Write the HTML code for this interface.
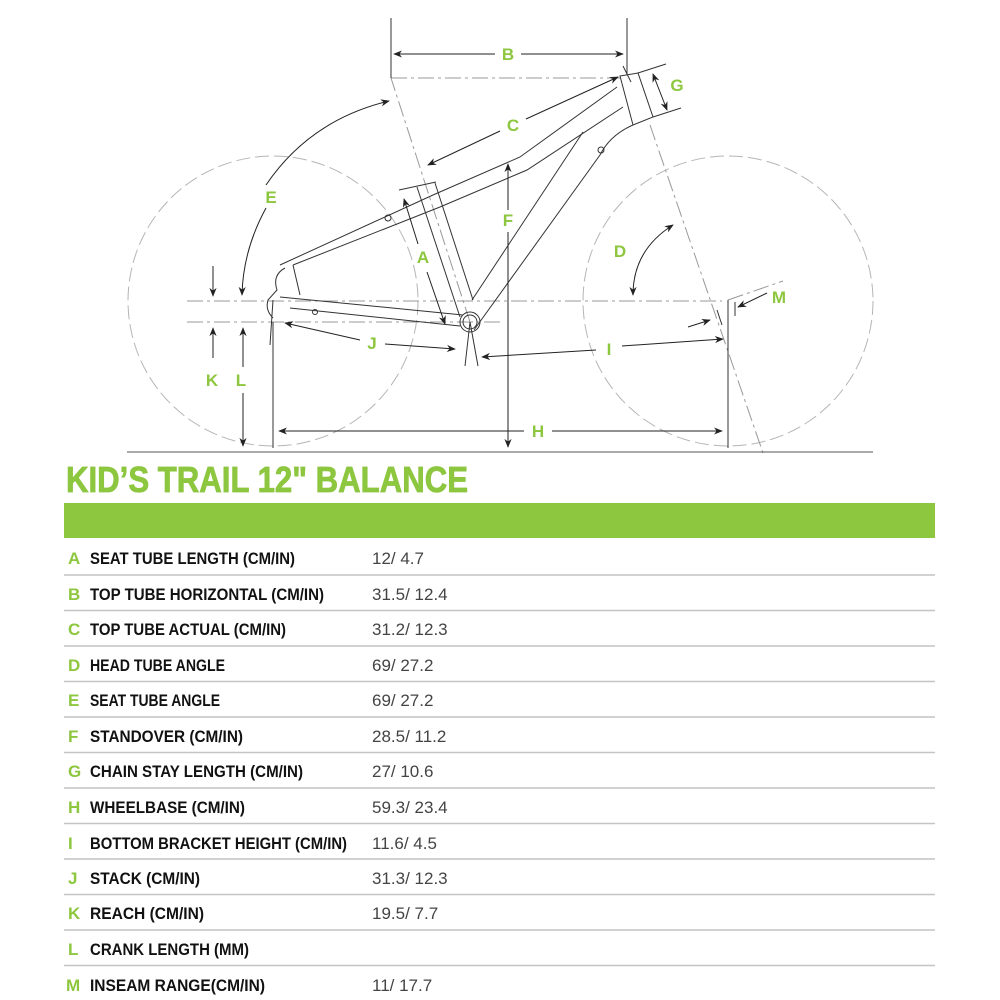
<!DOCTYPE html>
<html><head><meta charset="utf-8"><style>
html,body{margin:0;padding:0;background:#fff;width:1000px;height:1000px;overflow:hidden}
svg{display:block}
.g{fill:#8dc63f;font-family:"Liberation Sans Narrow","Liberation Sans",sans-serif;font-weight:bold}
.k{fill:#111;font-family:"Liberation Sans Narrow","Liberation Sans",sans-serif;font-weight:bold}
.v{fill:#444;font-family:"Liberation Sans Narrow","Liberation Sans",sans-serif}
</style></head><body>
<svg width="1000" height="1000" viewBox="0 0 1000 1000" xmlns="http://www.w3.org/2000/svg">
<defs>
<marker id="a" viewBox="0 0 10 10" refX="9" refY="5" markerWidth="9" markerHeight="9" orient="auto-start-reverse" markerUnits="userSpaceOnUse"><path d="M0,1 L10,5 L0,9 L3,5 z" fill="#222"/></marker>
</defs>
<g fill="none" stroke="#b5b5b5" stroke-width="1" stroke-dasharray="14,5">
<circle cx="273" cy="301" r="145"/>
<circle cx="728" cy="301" r="145"/>
</g>
<g stroke="#999" stroke-width="1" stroke-dasharray="16,4,3,4" fill="none">
<line x1="187" y1="301" x2="722" y2="301"/>
<line x1="187" y1="322" x2="503" y2="322"/>
<line x1="391" y1="78" x2="620" y2="78"/>
<line x1="470" y1="322" x2="391" y2="78"/>
<line x1="650" y1="125" x2="763" y2="453"/>
<line x1="728" y1="300" x2="783" y2="281"/>
</g>
<line x1="127" y1="452" x2="873" y2="452" stroke="#555" stroke-width="1"/>
<g fill="none" stroke="#333" stroke-width="1">
<path d="M433,195 L520,157 L617,87"/>
<path d="M440,207 L527,170 L623,107"/>
<path d="M433,195 L280,265"/>
<path d="M440,207 L293,265"/>
<path d="M280,297 L463,315"/>
<path d="M290,308 L460,326"/>
<path d="M417,187 L460,317"/>
<path d="M435,183 L473,300"/>
<path d="M633,125 Q610,135 600,155 L474,330"/>
<path d="M583,132 L472,300"/>
<path d="M620,76 L638,73 L653,117 L633,125 Z"/>
<path d="M399,190 L436,182"/>
<circle cx="470" cy="322" r="10"/>
<circle cx="470" cy="322" r="7"/>
<path d="M470,322 L465,366 M470,322 L478,366"/>
<path d="M293,265 L300,295 M285,268 Q272,275 277,290 L268,300 Q265,310 273,318 M273,300 L270,345"/>
<circle cx="388" cy="218" r="3"/>
<circle cx="315" cy="312" r="2.5"/>
<circle cx="601" cy="150" r="3"/>
<path d="M638,73 L666,64 M653,117 L681,108"/>
<path d="M623,66 L631,82"/>
<path d="M717,310 L722,325 M735,302 L735,316"/>
</g>
<g stroke="#333" stroke-width="1">
<line x1="391" y1="18" x2="391" y2="78"/>
<line x1="627" y1="18" x2="627" y2="75"/>
<line x1="273" y1="322" x2="273" y2="448"/>
<line x1="728" y1="300" x2="728" y2="448"/>
</g>
<g stroke="#222" stroke-width="1" fill="none" marker-end="url(#a)">
<line x1="495" y1="54" x2="394" y2="54"/>
<line x1="521" y1="54" x2="623" y2="54"/>
<line x1="500" y1="131" x2="428" y2="165"/>
<line x1="526" y1="119" x2="618" y2="77"/>
<line x1="508" y1="210" x2="508" y2="164"/>
<line x1="508" y1="232" x2="508" y2="447"/>
<line x1="418" y1="244" x2="404" y2="199"/>
<line x1="427" y1="272" x2="445" y2="324"/>
<line x1="524" y1="431" x2="279" y2="431"/>
<line x1="552" y1="431" x2="722" y2="431"/>
<line x1="596" y1="350" x2="482" y2="357"/>
<line x1="622" y1="346" x2="723" y2="339"/>
<line x1="360" y1="340" x2="285" y2="323"/>
<line x1="385" y1="344" x2="455" y2="349"/>
<line x1="213" y1="266" x2="213" y2="296"/>
<line x1="213" y1="358" x2="213" y2="328"/>
<line x1="243" y1="367" x2="243" y2="328"/>
<line x1="243" y1="393" x2="243" y2="446"/>
<path d="M266,185 Q310,120 389,101"/>
<path d="M266,208 Q243,250 242,295"/>
<line x1="767" y1="293" x2="738" y2="307"/>
<line x1="688" y1="327" x2="710" y2="320"/>
</g>
<path d="M633,295 Q633,250 673,225" stroke="#222" fill="none" marker-start="url(#a)" marker-end="url(#a)"/>
<line x1="653" y1="74" x2="667" y2="110" stroke="#222" marker-start="url(#a)" marker-end="url(#a)"/>
<g class="g" font-size="17" text-anchor="middle">
<text x="423" y="263">A</text>
<text x="508" y="60">B</text>
<text x="513" y="131">C</text>
<text x="620" y="257">D</text>
<text x="271" y="203">E</text>
<text x="508" y="226">F</text>
<text x="677" y="91">G</text>
<text x="538" y="437">H</text>
<text x="609" y="355">I</text>
<text x="372" y="349">J</text>
<text x="212" y="386">K</text>
<text x="241" y="386">L</text>
<text x="779" y="303">M</text>
</g>
<text class="g" x="66" y="492" font-size="36" textLength="402" lengthAdjust="spacingAndGlyphs" stroke="#8dc63f" stroke-width="0.8">KID’S TRAIL 12" BALANCE</text>
<rect x="64" y="503" width="871" height="35" fill="#8dc63f"/>
<g stroke="#c4c4c4" stroke-width="1.5">
<line x1="64" y1="575" x2="935" y2="575"/>
<line x1="64" y1="610.5" x2="935" y2="610.5"/>
<line x1="64" y1="646" x2="935" y2="646"/>
<line x1="64" y1="681.5" x2="935" y2="681.5"/>
<line x1="64" y1="717" x2="935" y2="717"/>
<line x1="64" y1="752.5" x2="935" y2="752.5"/>
<line x1="64" y1="788" x2="935" y2="788"/>
<line x1="64" y1="823.5" x2="935" y2="823.5"/>
<line x1="64" y1="859" x2="935" y2="859"/>
<line x1="64" y1="894.5" x2="935" y2="894.5"/>
<line x1="64" y1="930" x2="935" y2="930"/>
<line x1="64" y1="965.5" x2="935" y2="965.5"/>
</g>
<g font-size="17">
<text class="g" x="68" y="564">A</text><text class="k" x="90" y="564" textLength="205" lengthAdjust="spacingAndGlyphs">SEAT TUBE LENGTH (CM/IN)</text><text class="v" x="372" y="564">12/ 4.7</text>
<text class="g" x="68" y="600">B</text><text class="k" x="90" y="600" textLength="234" lengthAdjust="spacingAndGlyphs">TOP TUBE HORIZONTAL (CM/IN)</text><text class="v" x="372" y="600">31.5/ 12.4</text>
<text class="g" x="68" y="635">C</text><text class="k" x="90" y="635" textLength="196" lengthAdjust="spacingAndGlyphs">TOP TUBE ACTUAL (CM/IN)</text><text class="v" x="372" y="635">31.2/ 12.3</text>
<text class="g" x="68" y="671">D</text><text class="k" x="90" y="671" textLength="135" lengthAdjust="spacingAndGlyphs">HEAD TUBE ANGLE</text><text class="v" x="372" y="671">69/ 27.2</text>
<text class="g" x="68" y="706">E</text><text class="k" x="90" y="706" textLength="130" lengthAdjust="spacingAndGlyphs">SEAT TUBE ANGLE</text><text class="v" x="372" y="706">69/ 27.2</text>
<text class="g" x="68" y="742">F</text><text class="k" x="90" y="742" textLength="153" lengthAdjust="spacingAndGlyphs">STANDOVER (CM/IN)</text><text class="v" x="372" y="742">28.5/ 11.2</text>
<text class="g" x="68" y="777">G</text><text class="k" x="90" y="777" textLength="213" lengthAdjust="spacingAndGlyphs">CHAIN STAY LENGTH (CM/IN)</text><text class="v" x="372" y="777">27/ 10.6</text>
<text class="g" x="68" y="813">H</text><text class="k" x="90" y="813" textLength="155" lengthAdjust="spacingAndGlyphs">WHEELBASE (CM/IN)</text><text class="v" x="372" y="813">59.3/ 23.4</text>
<text class="g" x="68" y="849">I</text><text class="k" x="90" y="849" textLength="257" lengthAdjust="spacingAndGlyphs">BOTTOM BRACKET HEIGHT (CM/IN)</text><text class="v" x="372" y="849">11.6/ 4.5</text>
<text class="g" x="68" y="884">J</text><text class="k" x="90" y="884" textLength="110" lengthAdjust="spacingAndGlyphs">STACK (CM/IN)</text><text class="v" x="372" y="884">31.3/ 12.3</text>
<text class="g" x="68" y="919">K</text><text class="k" x="90" y="919" textLength="114" lengthAdjust="spacingAndGlyphs">REACH (CM/IN)</text><text class="v" x="372" y="919">19.5/ 7.7</text>
<text class="g" x="68" y="955">L</text><text class="k" x="90" y="955" textLength="159" lengthAdjust="spacingAndGlyphs">CRANK LENGTH (MM)</text>
<text class="g" x="66" y="991">M</text><text class="k" x="90" y="991" textLength="175" lengthAdjust="spacingAndGlyphs">INSEAM RANGE(CM/IN)</text><text class="v" x="372" y="991">11/ 17.7</text>
</g>
</svg>
</body></html>
